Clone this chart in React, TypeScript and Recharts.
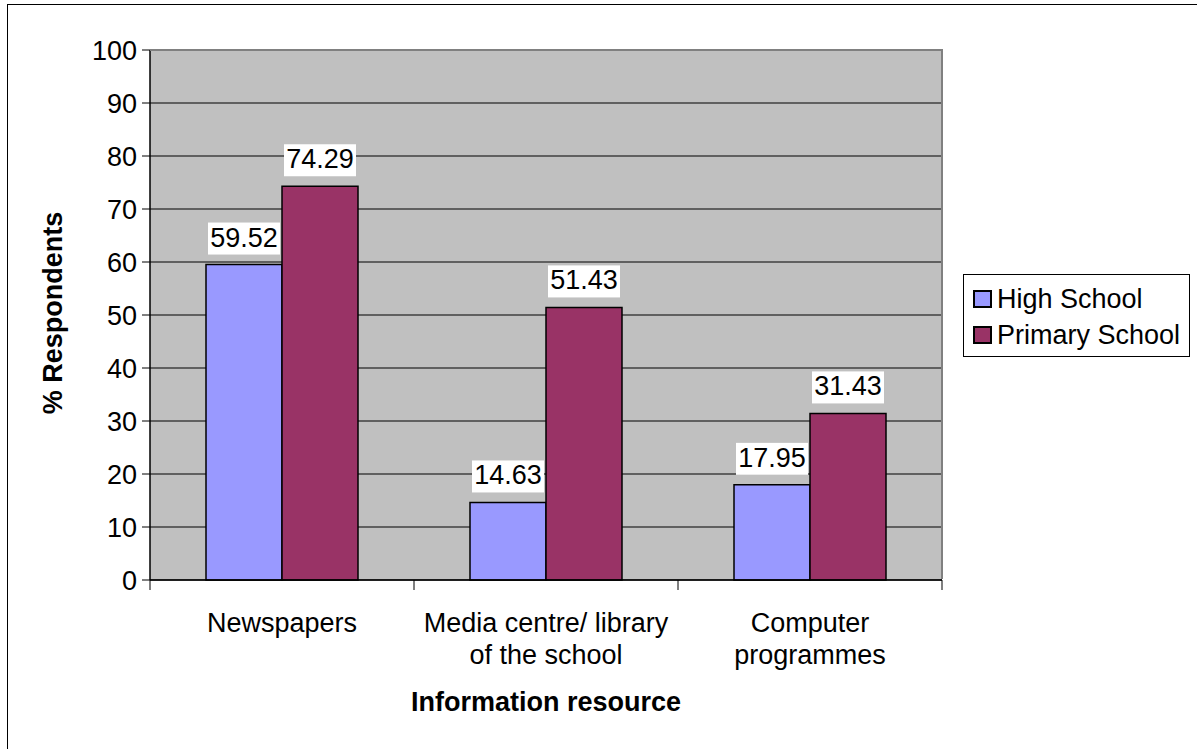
import React from "react";
import { BarChart, Bar, XAxis, YAxis, CartesianGrid, Legend, LabelList, Label } from "recharts";

const categories = ["Newspapers", "Media centre/ library\nof the school", "Computer\nprogrammes"];
const highSchool = [59.52, 14.63, 17.95];
const primarySchool = [74.29, 51.43, 31.43];
const yTicks = [0, 10, 20, 30, 40, 50, 60, 70, 80, 90, 100];
const seriesNames = ["High School", "Primary School"];
const colors = ["#9999FF", "#993366"];

const data = categories.map((c, i) => ({ name: c, high: highSchool[i], primary: primarySchool[i] }));

const FONT = "'Liberation Sans', Arial, sans-serif";
const FS = 27;
const PLOT_LEFT = 150;
const PLOT_RIGHT = 942;
const PLOT_TOP = 50;
const PLOT_BOTTOM = 580;
const BAND = (PLOT_RIGHT - PLOT_LEFT) / categories.length;

const CatTick = (props: any) => {
  const { x, y, payload, index } = props;
  const lines = String(payload.value).split("\n");
  const ay = PLOT_BOTTOM;
  return (
    <g>
      <line x1={x - BAND / 2} x2={x - BAND / 2} y1={ay} y2={ay + 10} stroke="#000" strokeWidth={1} />
      {index === categories.length - 1 && (
        <line x1={x + BAND / 2} x2={x + BAND / 2} y1={ay} y2={ay + 10} stroke="#000" strokeWidth={1} />
      )}
      {lines.map((l, i) => (
        <text key={i} x={x} y={ay + 52 + i * 32} textAnchor="middle" fontSize={FS} fontFamily={FONT} fill="#000">
          {l}
        </text>
      ))}
    </g>
  );
};

const ValueLabel = (props: any) => {
  const { x, y, width, value } = props;
  const cx = x + width / 2;
  const txt = Number(value).toFixed(2);
  return (
    <g>
      <rect x={cx - 36} y={y - 42} width={72} height={32} fill="#fff" />
      <text x={cx} y={y - 18} textAnchor="middle" fontSize={FS} fontFamily={FONT} fill="#000">
        {txt}
      </text>
    </g>
  );
};

const LegendContent = () => (
  <div
    style={{
      border: "1px solid #000",
      background: "#fff",
      width: 227,
      height: 83,
      boxSizing: "border-box",
      padding: "6px 0 0 9px",
      fontFamily: FONT,
      fontSize: FS,
      lineHeight: "31px",
      color: "#000",
    }}
  >
    {seriesNames.map((n, i) => (
      <div key={n} style={{ display: "flex", alignItems: "center", height: 36 }}>
        <span
          style={{
            display: "inline-block",
            width: 19,
            height: 18,
            boxSizing: "border-box",
            background: colors[i],
            border: "2px solid #000",
            marginRight: 5,
          }}
        />
        <span>{n}</span>
      </div>
    ))}
  </div>
);

export default function App() {
  return (
    <div style={{ position: "absolute", left: 0, top: 0, width: 1197, height: 749, overflow: "hidden", background: "#fff" }}>
      <div
        style={{
          position: "absolute",
          left: 7,
          top: 4,
          width: 1220,
          height: 780,
          border: "1px solid #000",
        }}
      />
      <div style={{ position: "absolute", left: 0, top: 0 }}>
        <BarChart
          width={1197}
          height={749}
          data={data}
          margin={{ top: PLOT_TOP, right: 1197 - PLOT_RIGHT, bottom: 0, left: 0 }}
          barCategoryGap={56}
          barGap={0}
        >
          <CartesianGrid vertical={false} stroke="#000" strokeWidth={1} fill="#C0C0C0" fillOpacity={1} />
          <XAxis
            dataKey="name"
            height={749 - PLOT_BOTTOM}
            interval={0}
            tickLine={false}
            axisLine={{ stroke: "#000", strokeWidth: 1.5 }}
            tick={<CatTick />}
          >
            <Label
              content={() => (
                <text x={546} y={711} textAnchor="middle" fontSize={FS} fontWeight="bold" fontFamily={FONT} fill="#000">
                  Information resource
                </text>
              )}
            />
          </XAxis>
          <YAxis
            width={PLOT_LEFT}
            domain={[0, 100]}
            ticks={yTicks}
            interval={0}
            tickSize={8}
            tickMargin={5}
            tickLine={{ stroke: "#000" }}
            axisLine={{ stroke: "#000", strokeWidth: 1.5 }}
            tick={{ fontSize: FS, fontFamily: FONT, fill: "#000" }}
          >
            <Label
              content={() => (
                <text
                  x={62}
                  y={313}
                  textAnchor="middle"
                  fontSize={FS}
                  fontWeight="bold"
                  fontFamily={FONT}
                  fill="#000"
                  transform="rotate(-90 62 313)"
                >
                  % Respondents
                </text>
              )}
            />
          </YAxis>
          <Legend
            layout="horizontal"
            verticalAlign="middle"
            align="center"
            content={<LegendContent />}
            wrapperStyle={{ position: "absolute", left: 963, top: 274, width: 227, height: 83 }}
          />
          <Bar dataKey="high" name={seriesNames[0]} fill={colors[0]} stroke="#000" strokeWidth={1.5} isAnimationActive={false}>
            <LabelList dataKey="high" content={<ValueLabel />} />
          </Bar>
          <Bar dataKey="primary" name={seriesNames[1]} fill={colors[1]} stroke="#000" strokeWidth={1.5} isAnimationActive={false}>
            <LabelList dataKey="primary" content={<ValueLabel />} />
          </Bar>
        </BarChart>
      </div>
      <div
        style={{
          position: "absolute",
          left: PLOT_LEFT,
          top: PLOT_TOP - 1,
          width: PLOT_RIGHT - PLOT_LEFT + 1,
          height: PLOT_BOTTOM - PLOT_TOP,
          borderTop: "2px solid #808080",
          borderRight: "2px solid #808080",
          boxSizing: "border-box",
          pointerEvents: "none",
        }}
      />
    </div>
  );
}
